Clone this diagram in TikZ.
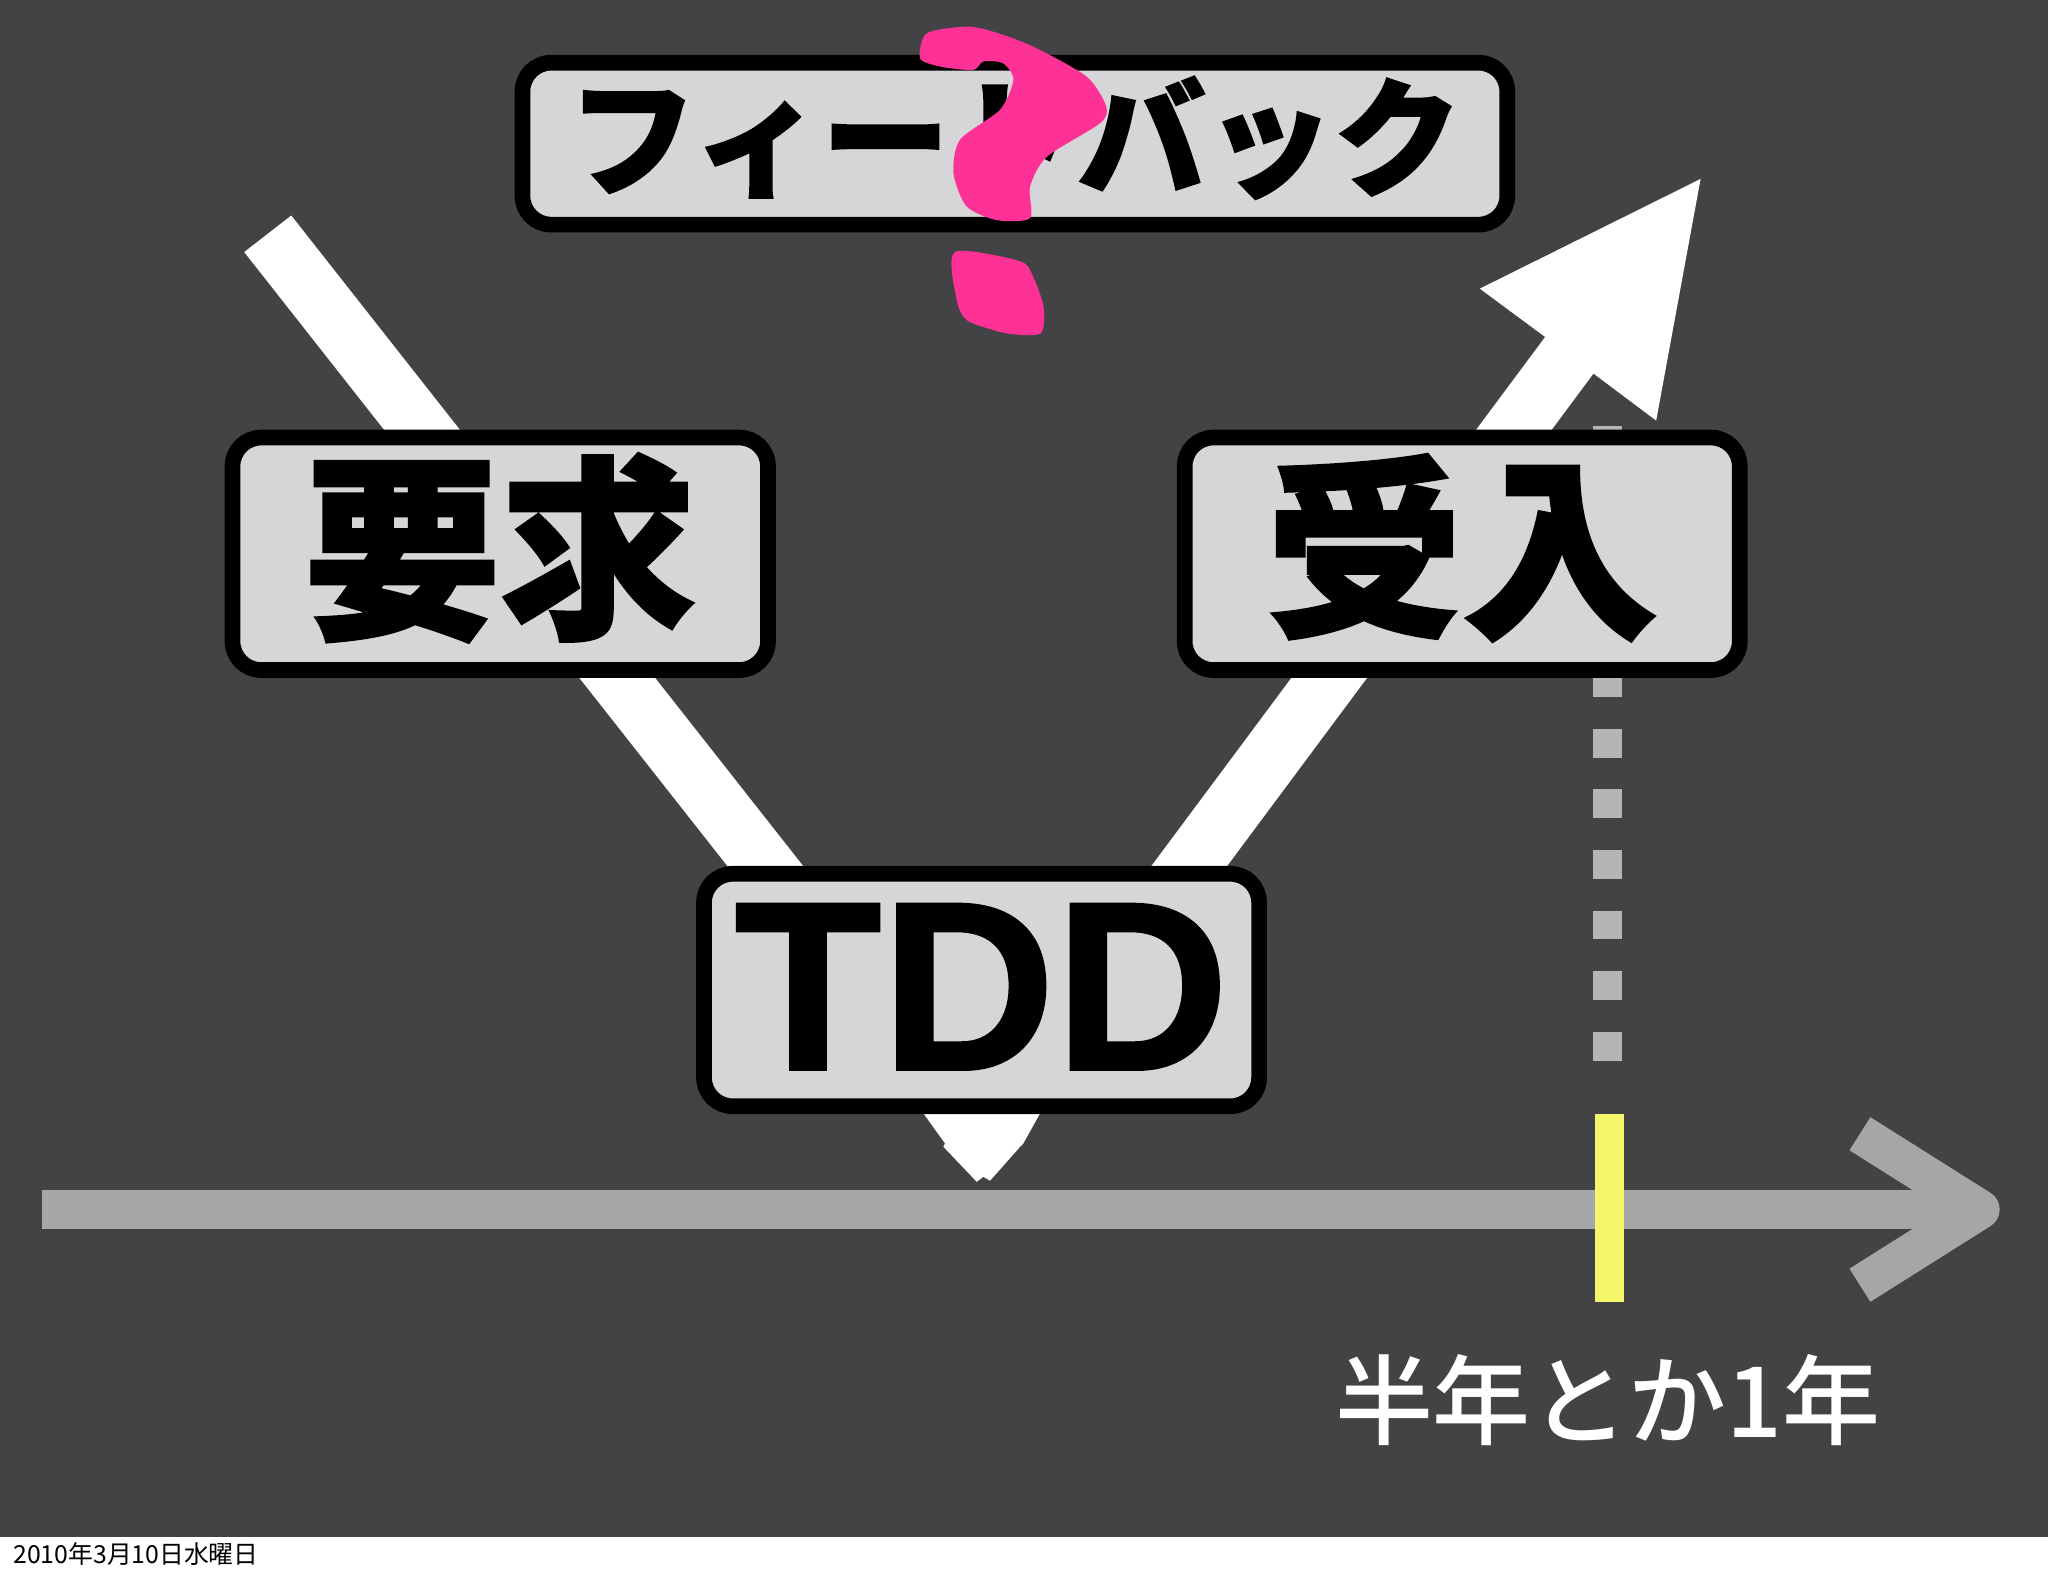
\documentclass[tikz,border=0pt]{standalone}
\usepackage{fontspec}
\newfontfamily\jp{Noto Sans CJK JP}
\newfontfamily\jpm{Noto Sans CJK JP Medium}
\newfontfamily\jpk{Noto Sans CJK JP Black}[FakeBold=1.5]
\newfontfamily\lib{Liberation Sans}[FakeBold=1.2]
\definecolor{bg}{RGB}{67,66,68}
\definecolor{boxfill}{RGB}{214,213,215}
\definecolor{qpink}{RGB}{254,50,150}
\definecolor{axisgray}{RGB}{166,165,168}
\definecolor{dashgray}{RGB}{181,180,182}
\definecolor{yel}{RGB}{245,245,105}
\tikzset{
  lbl/.style={draw=black, line width=12pt, fill=boxfill, rounded corners=22pt, inner sep=0pt, text=black, align=center},
  warrow/.style={fill=white, draw=none},
  axisline/.style={draw=axisgray, line width=30pt}
}
\begin{document}
\begin{tikzpicture}[x=1pt,y=-1pt]
\useasboundingbox (0,0) rectangle (1568,1206.6);
\fill[white] (0,0) rectangle (1568,1206.6);
\fill[bg] (0,0) rectangle (1568,1177);

% dashed vertical marker
\coordinate (dtop) at (1231,326);
\coordinate (dbot) at (1231,812);
\draw[dashgray, line width=22pt, dash pattern=on 22pt off 24.4pt] (dtop) -- (dbot);

% left (down) arrow
\fill[warrow] (187,193) -- (223,165) -- (644,700) -- (796.3,852.4) -- (783.5,875.4) -- (781,878) -- (758,904) -- (752.9,901) -- (747.8,904.8) -- (722.3,878) -- (723.5,875.4) -- (707,852.4) -- (586,700) -- cycle;

% right (up) arrow
\fill[warrow] (854,700) -- (1183,258) -- (1133,221) -- (1302,137) -- (1268,322) -- (1220,286) -- (912,700) -- cycle;

% boxes
\node[lbl, minimum width=754pt, minimum height=124pt] (fb) at (777,110) {\raisebox{4.5pt}[\height][\depth]{\jpk\fontsize{98}{98}\selectfont フィードバック}};
\node[lbl, minimum width=410pt, minimum height=178pt] (req) at (383,424) {\raisebox{4.5pt}[\height][\depth]{\jpk\fontsize{150}{150}\selectfont 要求}};
\node[lbl, minimum width=425pt, minimum height=178pt] (acc) at (1119.5,424) {\raisebox{4.5pt}[\height][\depth]{\jpk\fontsize{150}{150}\selectfont 受入}};
\node[lbl, minimum width=425pt, minimum height=178pt] (tdd) at (751.5,758) {\raisebox{2.5pt}[\height][\depth]{\lib\bfseries\fontsize{184}{184}\selectfont TDD}};

% pink question mark
\fill[qpink] plot[smooth cycle, tension=0.45] coordinates {(709.5,25.5) (740,20.4) (760.5,24.3) (791,35.7) (832,58.7) (847,81.7) (842,94.5) (801.5,120) (788.6,143) (788.6,167) (763,168.5) (740,158) (730,132.7) (735,107) (765.7,84) (775.9,61) (768,48.5) (753,47) (745,53.6) (720,51) (704.5,44.7)};
\fill[qpink] plot[smooth cycle, tension=0.45] coordinates {(731,193) (781,200) (791,212) (799,235) (797,255) (776,256) (760.6,252.7) (740,245) (732.5,229.7)};

% time axis
\coordinate (axL) at (32,926);
\coordinate (axR) at (1492,926);
\coordinate (hU) at (1424,868);
\coordinate (hT) at (1516,926);
\coordinate (hD) at (1424,984);
\draw[axisline] (axL) -- (axR);
\draw[axisline, line join=round] (hU) -- (hT) -- (hD);

% yellow marker
\fill[yel] (1221,853) rectangle (1243,997);

% labels
\node[text=white, inner sep=0pt] (span) at (1231,1072) {\jpm\fontsize{75}{75}\selectfont 半年とか1年};
\node[anchor=base west, inner sep=0pt, text=black] (date) at (10,1197) {\jp\fontsize{19}{19}\selectfont 2010年3月10日水曜日};
\end{tikzpicture}
\end{document}
